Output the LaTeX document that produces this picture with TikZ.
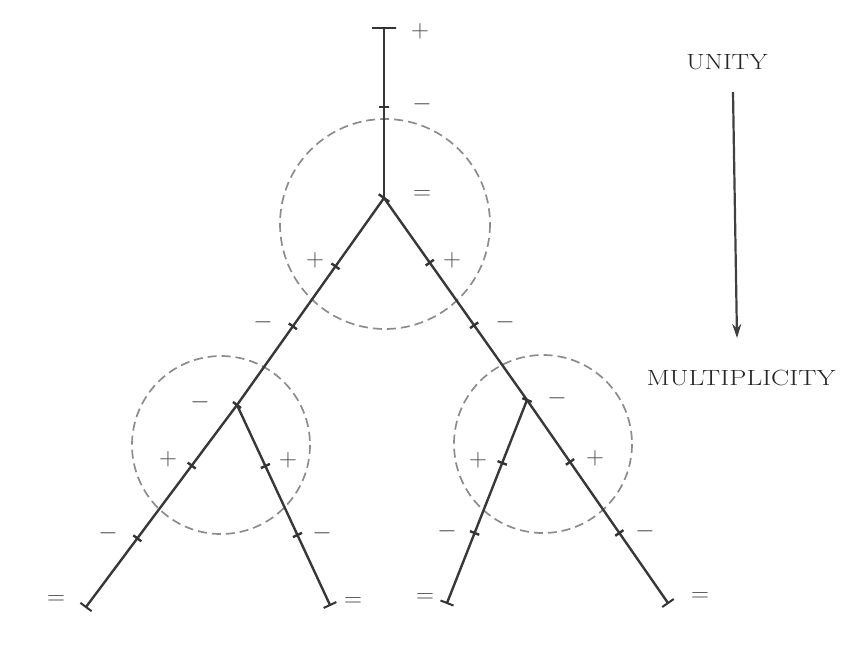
\documentclass[tikz,border=0pt]{standalone}
\usetikzlibrary{arrows.meta}
\begin{document}
\begin{tikzpicture}[x=1pt,y=-1pt,
  branch/.style={line width=2.4pt, draw=black!78},
  ring/.style={line width=1.7pt, draw=black!45, dash pattern=on 9pt off 5pt},
  tickmark/.style={sloped, draw=black!80, line width=2.4pt, inner sep=0pt, minimum width=0pt, minimum height=10pt, fill=none},
  endbar/.style={sloped, draw=black!80, line width=2pt, inner sep=0pt, minimum width=0pt, minimum height=14pt},
  sign/.style={text=black!72, inner sep=0pt, font=\fontsize{26}{26}\selectfont},
  caption/.style={text=black!85, inner sep=0pt, font=\fontsize{22}{22}\selectfont},
  flow/.style={line width=2.2pt, draw=black!75, -{Stealth[length=14pt,width=9pt]}}
]
\useasboundingbox (0,0) rectangle (857,670);

% junctions and ends
\coordinate (top) at (384,28);
\coordinate (root) at (384,198);
\coordinate (L) at (237,405);
\coordinate (R) at (527,400);
\coordinate (LL) at (86,607);
\coordinate (LR) at (330,605);
\coordinate (RL) at (447,603);
\coordinate (RR) at (668,603);

% dashed circles
\draw[ring] (385,224) circle[radius=105];
\draw[ring] (221,445) circle[radius=89];
\draw[ring] (543,444) circle[radius=89];

% branches with ticks
\draw[branch] (top) -- (root)
  node[tickmark, pos=0.465] {}
  node[endbar, pos=0, minimum height=24pt] {};
\draw[branch] (root) -- (L)
  node[tickmark, pos=0.33] {}
  node[tickmark, pos=0.62] {}
  node[tickmark, pos=0, minimum height=13pt] {};
\draw[branch] (root) -- (R)
  node[tickmark, pos=0.32] {}
  node[tickmark, pos=0.63] {};
\draw[branch] (L) -- (LL)
  node[tickmark, pos=0.30] {}
  node[tickmark, pos=0.66] {}
  node[tickmark, pos=0] {}
  node[endbar, pos=1] {};
\draw[branch] (L) -- (LR)
  node[tickmark, pos=0.305] {}
  node[tickmark, pos=0.65] {}
  node[endbar, pos=1] {};
\draw[branch] (R) -- (RL)
  node[tickmark, pos=0.31] {}
  node[tickmark, pos=0.655] {}
  node[tickmark, pos=0] {}
  node[endbar, pos=1] {};
\draw[branch] (R) -- (RR)
  node[tickmark, pos=0.305] {}
  node[tickmark, pos=0.655] {}
  node[endbar, pos=1] {};

% signs: stem and root
\node[sign] (s1) at (420,31) {$+$};
\node[sign] (s2) at (422,104) {$-$};
\node[sign] (s3) at (422,195) {$=$};
\node[sign] (s4) at (315,260) {$+$};
\node[sign] (s5) at (452,260) {$+$};
\node[sign] (s6) at (263,322) {$-$};
\node[sign] (s7) at (505,322) {$-$};
% left subtree
\node[sign] (s8) at (200,402) {$-$};
\node[sign] (s9) at (168,459) {$+$};
\node[sign] (s10) at (288,460) {$+$};
\node[sign] (s11) at (108,533) {$-$};
\node[sign] (s12) at (322,533) {$-$};
\node[sign] (s13) at (56,600) {$=$};
\node[sign] (s14) at (353,602) {$=$};
% right subtree
\node[sign] (s15) at (557,398) {$-$};
\node[sign] (s16) at (478,460) {$+$};
\node[sign] (s17) at (595,458) {$+$};
\node[sign] (s18) at (447,531) {$-$};
\node[sign] (s19) at (645,531) {$-$};
\node[sign] (s20) at (425,598) {$=$};
\node[sign] (s21) at (700,597) {$=$};

% unity -> multiplicity
\node[caption] (unity) at (727,62) {\scalebox{1.2}[1]{UNITY}};
\node[caption] (multi) at (741,378) {\scalebox{1.24}[1]{MULTIPLICITY}};
\coordinate (a1) at (733,92);
\coordinate (a2) at (737,338);
\draw[flow] (a1) -- (a2);
\end{tikzpicture}
\end{document}
